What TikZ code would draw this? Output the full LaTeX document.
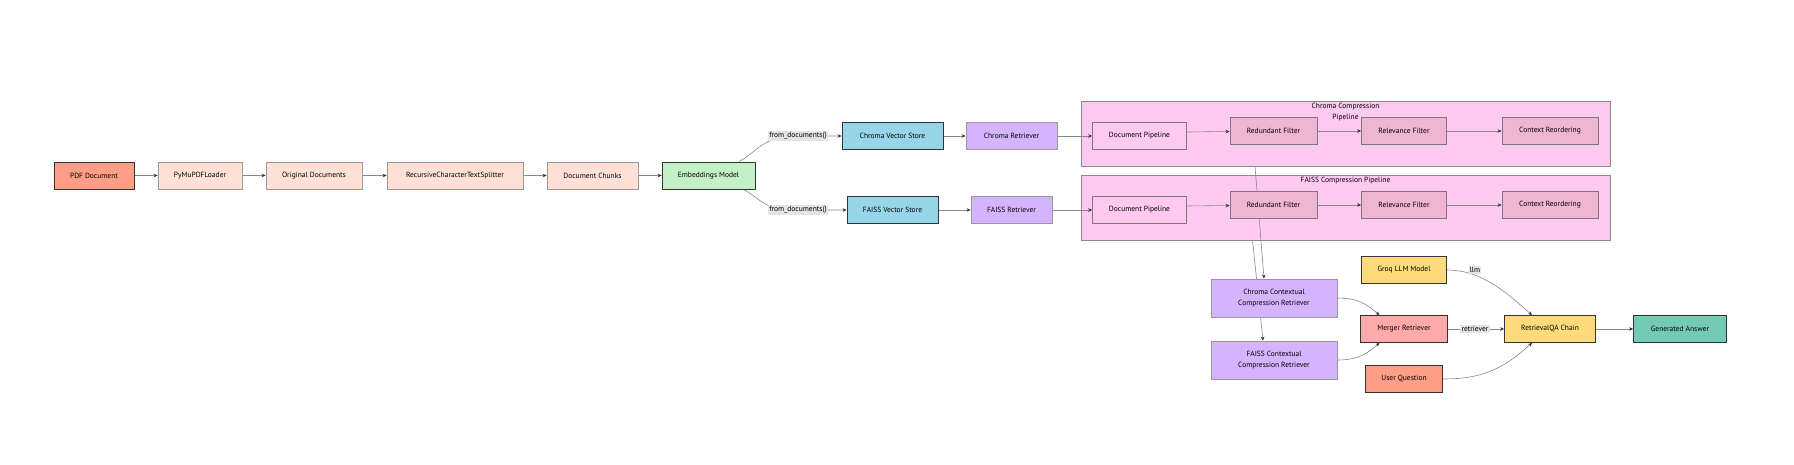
\documentclass[tikz,border=0pt]{standalone}
\usepackage{fontspec}
\setmainfont{PT Sans}
\usetikzlibrary{arrows.meta}
\pgfdeclarelayer{bg}
\pgfdeclarelayer{edges}
\pgfsetlayers{bg,edges,main}
\definecolor{salmon}{HTML}{FF9E87}
\definecolor{peach}{HTML}{FFE0D6}
\definecolor{mint}{HTML}{C4F0C7}
\definecolor{skyblue}{HTML}{97D6E9}
\definecolor{lavender}{HTML}{D4B4FC}
\definecolor{rosebg}{HTML}{FFC9F0}
\definecolor{filterpink}{HTML}{F0B4D4}
\definecolor{mustard}{HTML}{FFDA7A}
\definecolor{answerteal}{HTML}{74CBB5}
\definecolor{coral}{HTML}{FFAAAA}
\definecolor{darkline}{HTML}{333333}
\definecolor{lightline}{HTML}{999999}
\definecolor{edgegray}{HTML}{888888}
\definecolor{labelbg}{HTML}{E4E4E4}
\tikzset{
  box/.style={line width=0.8pt, minimum height=27pt, inner sep=0pt,
    font=\fontsize{7.5}{11.5}\selectfont, align=center},
  source/.style={box, fill=salmon, draw=darkline},
  stage/.style={box, fill=peach, draw=lightline},
  embed/.style={box, fill=mint, draw=darkline},
  store/.style={box, fill=skyblue, draw=darkline},
  retr/.style={box, fill=lavender, draw=lightline},
  pipe/.style={box, fill=rosebg, draw=lightline!80!black},
  filt/.style={box, fill=filterpink, draw=lightline!80!black},
  llmbox/.style={box, fill=mustard, draw=darkline},
  mergebox/.style={box, fill=coral, draw=darkline},
  answer/.style={box, fill=answerteal, draw=darkline},
  cluster/.style={fill=rosebg, draw=lightline!90!black, line width=0.8pt,
    minimum width=529pt, minimum height=65pt, inner sep=0pt},
  title/.style={font=\fontsize{7.5}{11}\selectfont, align=center, inner sep=0pt},
  edge/.style={draw=edgegray, line width=0.6pt,
    -{Stealth[length=4pt,width=3.5pt,color=darkline]}},
  elabel/.style={fill=labelbg, inner sep=1.2pt, font=\fontsize{7.5}{9}\selectfont}
}
\newcommand{\linkall}[1]{\foreach \a/\b in {#1} {\draw[edge] (\a) -- (\b);}}

\begin{document}
\begin{tikzpicture}[x=1pt,y=-1pt]
  \useasboundingbox (0,0) rectangle (1794,464);

  % loading and splitting
  \node[source, minimum width=80pt] (pdf) at (94,175.5) {PDF Document};
  \node[stage, minimum width=84pt] (loader) at (200,175.5) {PyMuPDFLoader};
  \node[stage, minimum width=96pt] (orig) at (314,175.5) {Original Documents};
  \node[stage, minimum width=136pt] (split) at (455,175.5) {RecursiveCharacterTextSplitter};
  \node[stage, minimum width=91pt] (chunks) at (592.5,175.5) {Document Chunks};
  \node[embed, minimum width=93pt] (emb) at (708.5,175.5) {Embeddings Model};

  % vector stores
  \node[elabel] (cfrom) at (798,136) {from\_documents()};
  \node[elabel] (ffrom) at (798,210) {from\_documents()};
  \node[store, minimum width=101pt] (cstore) at (892.5,136) {Chroma Vector Store};
  \node[retr, minimum width=91pt] (cretr) at (1011.5,136) {Chroma Retriever};
  \node[store, minimum width=91pt] (fstore) at (892.5,210) {FAISS Vector Store};
  \node[retr, minimum width=81pt] (fretr) at (1011.5,210) {FAISS Retriever};

  % compression pipelines
  \begin{pgfonlayer}{bg}
    \node[cluster] (chromabox) at (1345.5,133.5) {};
    \node[cluster] (faissbox) at (1345.5,207.5) {};
  \end{pgfonlayer}
  \node[title] (ctitle) at (1345.5,112.5) {Chroma Compression\\Pipeline};
  \node[title] (ftitle) at (1345.5,181) {FAISS Compression Pipeline};
  \foreach \p/\dy in {c/0,f/74} {
    \node[pipe, minimum width=94pt] (\p doc) at (1139.5,136+\dy) {Document Pipeline};
    \node[filt, minimum width=87pt] (\p red) at (1273.5,131+\dy) {Redundant Filter};
    \node[filt, minimum width=85pt] (\p rel) at (1404,131+\dy) {Relevance Filter};
    \node[filt, minimum width=96pt] (\p reo) at (1550,131+\dy) {Context Reordering};
  }

  % retrieval and answer
  \node[retr, minimum width=126pt, minimum height=38pt] (ccr) at (1274,298) {Chroma Contextual\\Compression Retriever};
  \node[retr, minimum width=126pt, minimum height=38pt] (fccr) at (1274,360) {FAISS Contextual\\Compression Retriever};
  \node[llmbox, minimum width=85pt] (groq) at (1404,270) {Groq LLM Model};
  \node[mergebox, minimum width=87pt] (merge) at (1404,329) {Merger Retriever};
  \node[source, minimum width=77pt] (user) at (1404,379) {User Question};
  \node[llmbox, minimum width=91pt] (qa) at (1550,329) {RetrievalQA Chain};
  \node[answer, minimum width=93pt] (ans) at (1680,329) {Generated Answer};
  \node[elabel] (llmlbl) at (1475,270) {llm};
  \node[elabel] (retrlbl) at (1475,329) {retriever};

  \begin{pgfonlayer}{edges}
    \linkall{pdf/loader, loader/orig, orig/split, split/chunks, chunks/emb,
      cstore/cretr, fstore/fretr, cretr/cdoc, fretr/fdoc, merge/qa, qa/ans}
    \foreach \p in {c,f} {
      \draw[edge] ([yshift=4pt]\p doc.east) -- (\p red);
      \linkall{\p red/\p rel, \p rel/\p reo}
    }
    \draw[edge] ([xshift=-16.5pt]emb.north east) .. controls +(20,-11) and +(-35,0) .. (cfrom.center) -- (cstore);
    \draw[edge] ([xshift=-12pt]emb.south east) .. controls +(20,11) and +(-35,0) .. (ffrom.center) -- (fstore);
    \draw[edge] ([xshift=-90.5pt]chromabox.south) -- ([xshift=-10pt]ccr.north);
    \draw[edge] ([xshift=-93pt]faissbox.south) -- ([xshift=-11pt]fccr.north);
    \draw[edge] (ccr.east) .. controls +(22,0) and +(-12,-10) .. ([xshift=-24.5pt]merge.north);
    \draw[edge] (fccr.east) .. controls +(22,0) and +(-12,10) .. ([xshift=-24.5pt]merge.south);
    \draw[edge] (groq.east) .. controls +(35,0) and +(-25,-22) .. ([xshift=-18pt]qa.north);
    \draw[edge] (user.east) .. controls +(45,0) and +(-25,22) .. ([xshift=-18pt]qa.south);
  \end{pgfonlayer}
\end{tikzpicture}
\end{document}
